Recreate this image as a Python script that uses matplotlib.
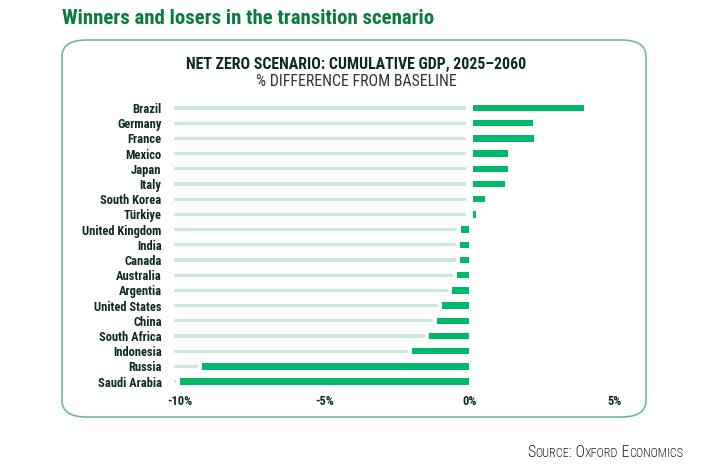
import matplotlib.pyplot as plt
from matplotlib.patches import FancyBboxPatch
from matplotlib import font_manager

# values (% difference from baseline)
countries = ["Brazil", "Germany", "France", "Mexico", "Japan", "Italy",
             "South Korea", "Türkiye", "United Kingdom", "India", "Canada",
             "Australia", "Argentia", "United States", "China", "South Africa",
             "Indonesia", "Russia", "Saudi Arabia"]
gdp_diff = [3.85, 2.1, 2.15, 1.25, 1.25, 1.15, 0.45, 0.12, -0.32, -0.35, -0.35,
            -0.45, -0.62, -0.97, -1.15, -1.4, -2.0, -9.25, -10.0]
tick_vals = [-10, -5, 0, 5]
tick_labels = ["-10%", "-5%", "0%", "5%"]

GREEN = "#00b86b"
TRACK = "#c8e8db"
DARK = "#0d2b1c"
TITLE_GREEN = "#0b7a3e"
BOX_EDGE = "#6dbb98"

names = {f.name for f in font_manager.fontManager.ttflist}
narrow = [n for n in ["Roboto Condensed", "Liberation Sans Narrow", "Open Sans Condensed"] if n in names]
plt.rcParams["font.family"] = narrow + ["DejaVu Sans"]

fig = plt.figure(figsize=(7.08, 4.72), dpi=100)

# outer rounded box
box = FancyBboxPatch((62 / 708, 1 - 417 / 472), (646 - 62) / 708, (417 - 40) / 472,
                     boxstyle="round,pad=0,rounding_size=0.035",
                     transform=fig.transFigure, facecolor="none",
                     edgecolor=BOX_EDGE, linewidth=1.2, zorder=-1)
fig.patches.append(box)

fig.text(62 / 708, 1 - 18 / 472, "Winners and losers in the transition scenario",
         fontsize=15, fontweight="bold", color=TITLE_GREEN, va="center", ha="left")
fig.text(356 / 708, 1 - 64 / 472, "NET ZERO SCENARIO: CUMULATIVE GDP, 2025–2060",
         fontsize=11.4, fontweight="bold", color=DARK, va="center", ha="center")
fig.text(356 / 708, 1 - 82 / 472, "% DIFFERENCE FROM BASELINE",
         fontsize=11.4, color="#333333", va="center", ha="center")

ax = fig.add_axes([170 / 708, 1 - 390.7 / 472, 460 / 708, 291.8 / 472])
n = len(countries)
ypos = list(range(n - 1, -1, -1))

track_start = -10.22
for y, v in zip(ypos, gdp_diff):
    # light track behind each bar, stopping just short of the green bar
    end = min(v, 0) - 0.14
    if end > track_start:
        ax.barh(y, end - track_start, left=track_start, height=0.2,
                color=TRACK, linewidth=0)
    if v > 0:
        left, width = 0.12, v - 0.05
    else:
        left, width = v, -v - 0.05
    ax.barh(y, width, left=left, height=0.42, color=GREEN, linewidth=0)

ax.set_xlim(-300 / 29, 160 / 29)
ax.set_ylim(-0.6, n - 0.4)
ax.set_yticks(ypos)
ax.set_yticklabels(countries, fontsize=9, fontweight="bold", color=DARK)
ax.set_xticks(tick_vals)
ax.set_xticklabels(tick_labels, fontsize=9, fontweight="bold", color=DARK)
ax.tick_params(length=0, axis="y", pad=6)
ax.tick_params(length=0, axis="x", pad=3)
for s in ax.spines.values():
    s.set_visible(False)
ax.patch.set_alpha(0)

# source line in small caps, pieces laid out one after another
pieces = [("S", 11.3), ("OURCE", 8.8), (": O", 11.3), ("XFORD", 8.8), (" E", 11.3), ("CONOMICS", 8.8)]
renderer = fig.canvas.get_renderer()
x = 527
for txt, size in pieces:
    t = fig.text(x / 708, 1 - 457 / 472, txt, fontsize=size, color="#222222",
                 va="baseline", ha="left", fontweight="light")
    x += t.get_window_extent(renderer=renderer).width

fig.savefig("out.png", dpi=100)
